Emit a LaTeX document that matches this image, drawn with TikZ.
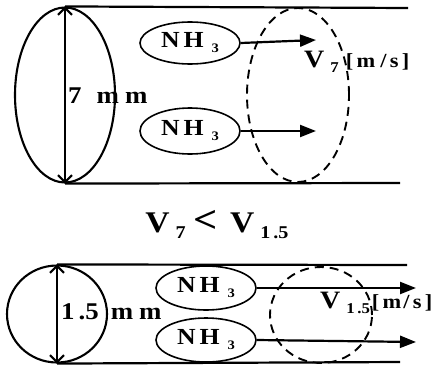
\documentclass[tikz,border=0pt]{standalone}
\usepackage{fontspec}
\setmainfont[FakeStretch=1.12]{Liberation Serif}
\usetikzlibrary{positioning,arrows.meta,shapes.geometric}

\tikzset{
	tube/.style={line width=2.2pt},
	gas/.style={ellipse, draw, line width=1.6pt, minimum width=100pt, minimum height=42pt, inner sep=0pt, font=\fontsize{23}{23}\selectfont\bfseries},
	flow/.style={line width=2.2pt, -{Triangle[length=16pt,width=12pt]}},
	span/.style={line width=2pt, {Straight Barb[length=7pt,width=14pt]}-{Straight Barb[length=7pt,width=14pt]}},
	zone/.style={ellipse, draw, dash pattern=on 9pt off 6pt, line width=1.9pt, inner sep=0pt},
	lbl/.style={font=\fontsize{24}{24}\selectfont\bfseries, inner sep=0pt},
}
\newcommand{\sbs}[3]{\raisebox{-#2}{\fontsize{#3}{#3}\selectfont\hspace{6pt}#1}}
\newcommand{\unitms}[1]{{\fontsize{20}{20}\selectfont[\,m\hspace{#1}/\,s\,]}}
\newcommand{\nh}{N\hspace{4pt}H\hspace{2pt}\sbs{3}{5pt}{13}}

\begin{document}
\begin{tikzpicture}[x=1pt, y=-1pt]
		\useasboundingbox (0,0) rectangle (435,364);
		
		%------------------------------------------------
		% 7 mm tube
		%------------------------------------------------
		\node [ellipse, draw, line width=2.1pt, minimum width=100pt, minimum height=175pt, inner sep=0pt] (pipeA) at (65,95) {};
		\coordinate (topA) at (408,8);
		\coordinate (botA) at (400,183);
		\draw [tube] (pipeA.north) -- (topA);
		\draw [tube] (pipeA.south) -- (botA);
		\draw [span] (pipeA.north) -- (pipeA.south);
		\node [lbl, anchor=west] (diaA) at (68,96) {7\hspace{15pt}m\hspace{6pt}m};
		
		\node [gas] (gasA1) at (190,43) {\nh};
		\node [gas, minimum height=46pt] (gasA2) at (190,131) {\nh};
		\coordinate (endA1) at (316,40);
		\coordinate (endA2) at (316,131);
		\draw [flow] (gasA1.east) -- (endA1);
		\draw [flow] (gasA2.east) -- (endA2);
		
		\node [zone, minimum width=102pt, minimum height=174pt] (zoneA) at (298,95) {};
		\node [lbl, anchor=west, font=\fontsize{25}{25}\selectfont\bfseries] (velA) at (304,62) {V\sbs{7}{5pt}{15}\hspace{7pt}\unitms{5pt}};
		
		%------------------------------------------------
		% comparison
		%------------------------------------------------
		\node [lbl, font=\fontsize{30}{30}\selectfont\bfseries] (cmp) at (217,225) {V\sbs{7}{6pt}{18}\hspace{8pt}{\fontsize{38}{38}\selectfont<}\hspace{12pt}V\sbs{1\,.5}{6pt}{18}};
		
		%------------------------------------------------
		% 1.5 mm tube
		%------------------------------------------------
		\node [ellipse, draw, line width=2.1pt, minimum width=100pt, minimum height=97pt, inner sep=0pt] (pipeB) at (57,314) {};
		\coordinate (topB) at (407,265);
		\coordinate (botB) at (400,362);
		\draw [tube] (pipeB.north) -- (topB);
		\draw [tube] (pipeB.south) -- (botB);
		\draw [span] (pipeB.north) -- (pipeB.south);
		\node [lbl, anchor=west] (diaB) at (61,312) {1\,.5\hspace{12pt}m\hspace{6pt}m};
		
		\node [gas, minimum height=44pt] (gasB1) at (206,288) {\nh};
		\node [gas, minimum height=44pt] (gasB2) at (206,340) {\nh};
		\coordinate (endB1) at (416,288);
		\coordinate (endB2) at (416,342);
		\draw [flow] (gasB1.east) -- (endB1);
		\draw [flow] (gasB2.east) -- (endB2);
		
		\node [zone, minimum width=102pt, minimum height=96pt] (zoneB) at (321,315) {};
		\node [lbl, anchor=west, font=\fontsize{25}{25}\selectfont\bfseries] (velB) at (320,303) {V\sbs{1\,.5}{5pt}{15}\hspace{2pt}\unitms{2pt}};
		
	\end{tikzpicture}
\end{document}
